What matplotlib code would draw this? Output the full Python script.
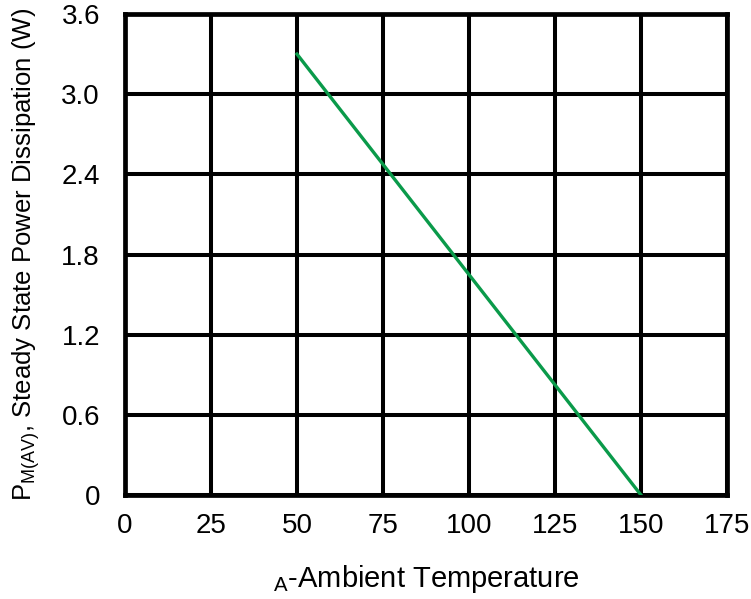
import matplotlib
matplotlib.use("Agg")
import matplotlib.pyplot as plt

plt.rcParams['font.family'] = ['Liberation Sans', 'DejaVu Sans']
plt.rcParams['mathtext.fontset'] = 'custom'
plt.rcParams['mathtext.rm'] = 'Liberation Sans'

# data
temp = [50, 150]
power = [3.3, 0.0]

x_ticks = [0, 25, 50, 75, 100, 125, 150, 175]
y_ticks = [0, 0.6, 1.2, 1.8, 2.4, 3.0, 3.6]
y_tick_labels = ["0", "0.6", "1.2", "1.8", "2.4", "3.0", "3.6"]

fig = plt.figure(figsize=(7.51, 5.99), dpi=100)
ax = fig.add_axes([0.1664, 0.1736, 0.8016, 0.803])

ax.plot(temp, power, color="#0a9a4a", lw=2.4, zorder=3)

ax.set_xlim(0, 175)
ax.set_ylim(0, 3.6)
ax.set_xticks(x_ticks)
ax.set_yticks(y_ticks)
ax.set_yticklabels(y_tick_labels)
ax.tick_params(axis='both', length=0, labelsize=20)
ax.tick_params(axis='x', pad=13)
ax.tick_params(axis='y', pad=18)

ax.grid(True, color='black', lw=2.9)
ax.set_axisbelow(True)
for s in ax.spines.values():
    s.set_linewidth(3.4)
    s.set_color('black')

ax.set_xlabel(r"$_{\mathrm{A}}$-Ambient Temperature", fontsize=21, labelpad=17)
ax.set_ylabel(r"P$_{\mathrm{M(AV)}}$, Steady State Power Dissipation (W)", fontsize=18.5, labelpad=14)

fig.savefig("out.png", dpi=100)
